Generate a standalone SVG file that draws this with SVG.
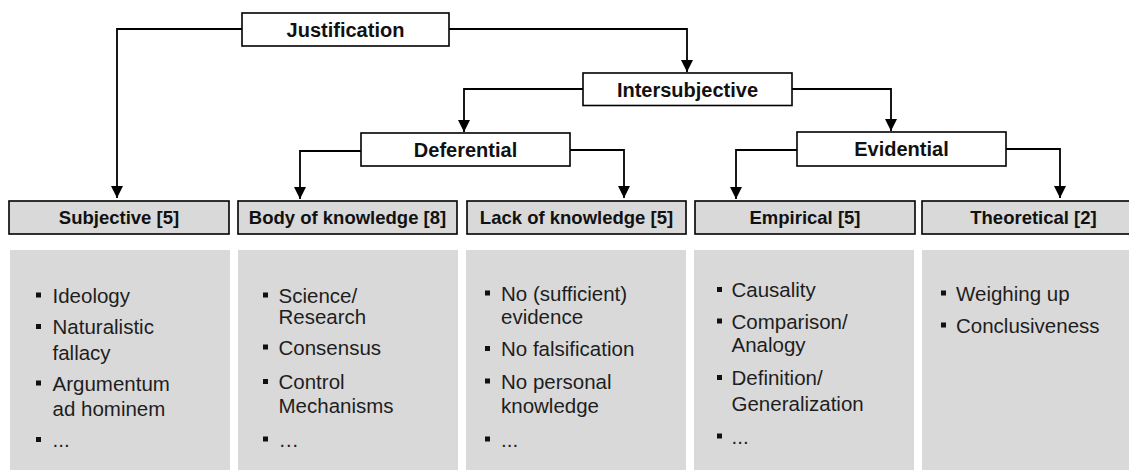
<svg xmlns="http://www.w3.org/2000/svg" width="1129" height="470" viewBox="0 0 1129 470">
<style>
  .node rect { fill: #ffffff; stroke: #000000; stroke-width: 1.6; }
  .node text { font-family: "Liberation Sans", Arial, sans-serif; font-weight: bold; font-size: 20px; fill: #111111; text-anchor: middle; }
  .head rect { fill: #d9d9d9; stroke: #000000; stroke-width: 1.6; }
  .head text { font-family: "Liberation Sans", Arial, sans-serif; font-weight: bold; font-size: 18.5px; fill: #111111; text-anchor: middle; }
  .list .panel { fill: #d9d9d9; }
  .list text { font-family: "Liberation Sans", Arial, sans-serif; font-size: 20.5px; fill: #1e1e1e; }
  .list .b { fill: #111111; }
  .conn path { fill: none; stroke: #000000; stroke-width: 1.8; marker-end: url(#arrow); }
</style>
<defs>
  <marker id="arrow" viewBox="0 0 12 12" refX="12" refY="6" markerWidth="12" markerHeight="12" markerUnits="userSpaceOnUse" orient="auto">
    <path d="M0,0 L12,6 L0,12 z" fill="#000000"/>
  </marker>
</defs>
<rect width="1129" height="470" fill="#ffffff"/>

<g id="connectors" class="conn">
  <path d="M242,29 H117 V198"/>
  <path d="M449,29 H687 V72"/>
  <path d="M583,89 H464 V132"/>
  <path d="M792,89 H891 V131"/>
  <path d="M361,151 H300 V199"/>
  <path d="M570,150 H624 V198"/>
  <path d="M797,150 H736 V199"/>
  <path d="M1006,149 H1060 V198"/>
</g>

<g id="justification" class="node">
  <rect x="242" y="13" width="207" height="33"/>
  <text x="345.5" y="36.5">Justification</text>
</g>
<g id="intersubjective" class="node">
  <rect x="583" y="73" width="209" height="32.5"/>
  <text x="687.5" y="96.5">Intersubjective</text>
</g>
<g id="deferential" class="node">
  <rect x="361" y="133" width="209" height="33"/>
  <text x="465.5" y="156.5">Deferential</text>
</g>
<g id="evidential" class="node">
  <rect x="797" y="132" width="209" height="34"/>
  <text x="901.5" y="156">Evidential</text>
</g>

<g id="subjective" class="head">
  <rect x="9" y="201" width="220" height="33"/>
  <text x="119" y="224">Subjective [5]</text>
</g>
<g id="body-of-knowledge" class="head">
  <rect x="238" y="201" width="219" height="33"/>
  <text x="347.5" y="224">Body of knowledge [8]</text>
</g>
<g id="lack-of-knowledge" class="head">
  <rect x="467" y="201" width="219" height="33"/>
  <text x="576.5" y="224">Lack of knowledge [5]</text>
</g>
<g id="empirical" class="head">
  <rect x="695" y="201" width="220" height="33"/>
  <text x="805" y="224">Empirical [5]</text>
</g>
<g id="theoretical" class="head">
  <rect x="922" y="201" width="223" height="33"/>
  <text x="1033.5" y="224">Theoretical [2]</text>
</g>

<g id="subjective-list" class="list">
  <rect class="panel" x="10" y="250" width="220" height="220"/>
  <rect class="b" x="36" y="292.5" width="5" height="5"/>
  <text x="52.5" y="302.5">Ideology</text>
  <rect class="b" x="36" y="324" width="5" height="5"/>
  <text x="52.5" y="334">Naturalistic</text>
  <text x="52.5" y="359.5">fallacy</text>
  <rect class="b" x="36" y="380.5" width="5" height="5"/>
  <text x="52.5" y="390.5">Argumentum</text>
  <text x="52.5" y="416">ad hominem</text>
  <rect class="b" x="36" y="437" width="5" height="5"/>
  <text x="52.5" y="447">...</text>
</g>

<g id="body-list" class="list">
  <rect class="panel" x="238" y="250" width="220" height="220"/>
  <rect class="b" x="263" y="292.5" width="5" height="5"/>
  <text x="278.5" y="302.5">Science/</text>
  <text x="278.5" y="324">Research</text>
  <rect class="b" x="263" y="344.5" width="5" height="5"/>
  <text x="278.5" y="354.5">Consensus</text>
  <rect class="b" x="263" y="379" width="5" height="5"/>
  <text x="278.5" y="389">Control</text>
  <text x="278.5" y="412.5">Mechanisms</text>
  <rect class="b" x="263" y="436.5" width="5" height="5"/>
  <text x="278.5" y="446.5">…</text>
</g>

<g id="lack-list" class="list">
  <rect class="panel" x="466" y="250" width="220" height="220"/>
  <rect class="b" x="485" y="290.5" width="5" height="5"/>
  <text x="501" y="300.5">No (sufficient)</text>
  <text x="501" y="323.5">evidence</text>
  <rect class="b" x="485" y="346" width="5" height="5"/>
  <text x="501" y="356">No falsification</text>
  <rect class="b" x="485" y="378.5" width="5" height="5"/>
  <text x="501" y="388.5">No personal</text>
  <text x="501" y="412.5">knowledge</text>
  <rect class="b" x="485" y="436.5" width="5" height="5"/>
  <text x="501" y="446.5">...</text>
</g>

<g id="empirical-list" class="list">
  <rect class="panel" x="694" y="250" width="220" height="220"/>
  <rect class="b" x="717" y="287" width="5" height="5"/>
  <text x="731.5" y="297">Causality</text>
  <rect class="b" x="717" y="318.5" width="5" height="5"/>
  <text x="731.5" y="328.5">Comparison/</text>
  <text x="731.5" y="352">Analogy</text>
  <rect class="b" x="717" y="375" width="5" height="5"/>
  <text x="731.5" y="385">Definition/</text>
  <text x="731.5" y="411">Generalization</text>
  <rect class="b" x="717" y="433.5" width="5" height="5"/>
  <text x="731.5" y="443.5">...</text>
</g>

<g id="theoretical-list" class="list">
  <rect class="panel" x="922" y="250" width="222" height="220"/>
  <rect class="b" x="941" y="290.5" width="5" height="5"/>
  <text x="956" y="300.5">Weighing up</text>
  <rect class="b" x="941" y="322.5" width="5" height="5"/>
  <text x="956" y="332.5">Conclusiveness</text>
</g>
</svg>
